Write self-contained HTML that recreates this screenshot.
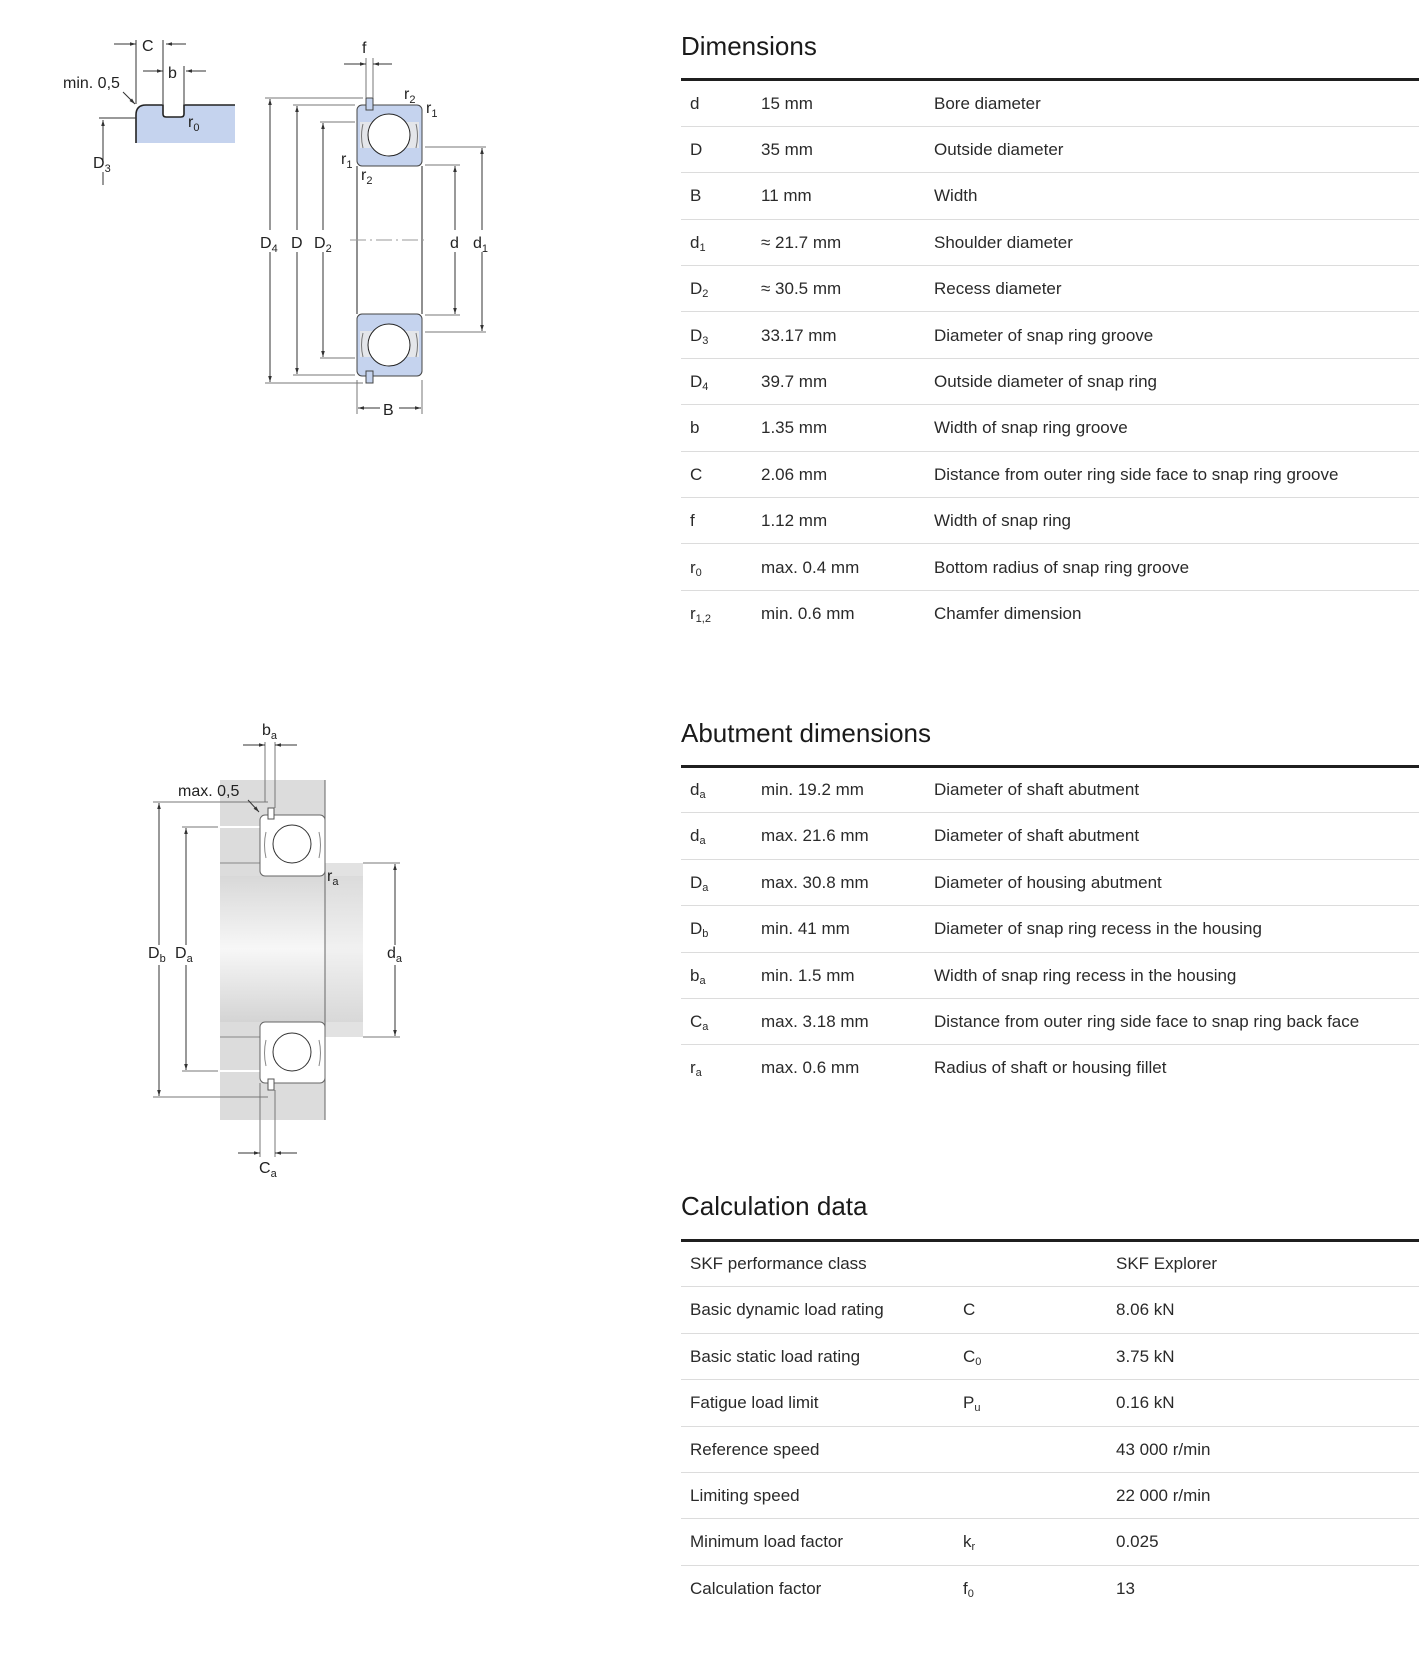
<!DOCTYPE html>
<html><head><meta charset="utf-8"><style>
*{margin:0;padding:0;box-sizing:border-box}
body{width:1419px;height:1656px;background:#fff;position:relative;overflow:hidden;font-family:"Liberation Sans",sans-serif;color:#222}
svg{position:absolute;left:0;top:0}
.h{position:absolute;left:681px;font-size:26px;color:#1a1a1a;line-height:30px}
.thick{position:absolute;left:681px;width:738px;height:3px;background:#1f1f1f}
.row{position:absolute;left:681px;width:738px;height:46.4px;border-bottom:1px solid #dcdcdc;font-size:17px;color:#2a2a2a}
.row.last{border-bottom:none}
.row span{position:absolute;top:13px;white-space:nowrap}
.a{left:9px}.b{left:80px}.c{left:253px}
.k{left:9px}.m{left:282px}.n{left:435px}
sub{font-size:11px;vertical-align:-3px}
</style></head><body>

<svg width="1419" height="1656" viewBox="0 0 1419 1656" font-family="Liberation Sans, sans-serif" fill="#222">
<defs>
<marker id="ar" viewBox="0 0 10 10" refX="10" refY="5" markerWidth="8" markerHeight="6" orient="auto-start-reverse"><path d="M0,2 L10,5 L0,8z" fill="#333"/></marker>
<linearGradient id="sh" x1="0" y1="0" x2="0" y2="1"><stop offset="0" stop-color="#d8d8d8"/><stop offset="0.5" stop-color="#f7f7f7"/><stop offset="1" stop-color="#d4d4d4"/></linearGradient>
</defs>
<g stroke="#333" stroke-width="1" fill="none">
<path d="M136,143 L136,115 Q136,105 146,105 L163,105 L163,114 Q163,117 166,117 L181,117 Q184,117 184,114 L184,105 L235,105 L235,143 Z" fill="#c5d3ee" stroke="none"/>
<path d="M136,143 L136,115 Q136,105 146,105 L163,105 L163,114 Q163,117 166,117 L181,117 Q184,117 184,114 L184,105 L235,105" stroke="#222" stroke-width="1.6"/>
<line x1="136" y1="40" x2="136" y2="104"/><line x1="163" y1="40" x2="163" y2="104"/><line x1="184" y1="66" x2="184" y2="104"/>
<line x1="114" y1="44" x2="136" y2="44" marker-end="url(#ar)"/><line x1="186" y1="44" x2="166" y2="44" marker-end="url(#ar)"/>
<line x1="143" y1="71" x2="163" y2="71" marker-end="url(#ar)"/><line x1="206" y1="71" x2="186" y2="71" marker-end="url(#ar)"/>
<line x1="123" y1="92" x2="135" y2="104" marker-end="url(#ar)"/>
<line x1="99" y1="118" x2="136" y2="118"/>
<line x1="103" y1="165" x2="103" y2="120" marker-end="url(#ar)"/><line x1="103" y1="172" x2="103" y2="185"/>
<rect x="357" y="105" width="65" height="61" rx="5" fill="#c5d3ee" stroke="#444"/>
<rect x="360" y="122" width="59" height="26" fill="#e4e6ea" stroke="none"/>
<rect x="357" y="314" width="65" height="62" rx="5" fill="#c5d3ee" stroke="#444"/>
<rect x="360" y="331" width="59" height="26" fill="#e4e6ea" stroke="none"/>
<path d="M363,124 q-3,12 0,24 M416,124 q3,12 0,24 M363,333 q-3,12 0,24 M416,333 q3,12 0,24" stroke="#777"/>
<circle cx="389" cy="135" r="21" fill="#fff" stroke="#222"/>
<circle cx="389" cy="345" r="21" fill="#fff" stroke="#222"/>
<line x1="357" y1="166" x2="357" y2="314" stroke="#222"/><line x1="422" y1="166" x2="422" y2="314" stroke="#222"/>
<rect x="366" y="98" width="7" height="12" fill="#c5d3ee" stroke="#444"/>
<rect x="366" y="371" width="7" height="12" fill="#c5d3ee" stroke="#444"/>
<line x1="350" y1="240" x2="428" y2="240" stroke="#999" stroke-dasharray="16,4,2,4"/>
<g stroke="#777">
<line x1="265" y1="98" x2="363" y2="98"/><line x1="265" y1="383" x2="363" y2="383"/>
<line x1="293" y1="105" x2="355" y2="105"/><line x1="293" y1="375" x2="355" y2="375"/>
<line x1="320" y1="122" x2="355" y2="122"/><line x1="320" y1="358" x2="355" y2="358"/>
<line x1="425" y1="165" x2="460" y2="165"/><line x1="425" y1="315" x2="460" y2="315"/>
<line x1="425" y1="147" x2="486" y2="147"/><line x1="425" y1="332" x2="486" y2="332"/>
<line x1="357" y1="380" x2="357" y2="414"/><line x1="422" y1="380" x2="422" y2="414"/>
<line x1="366" y1="58" x2="366" y2="98"/><line x1="373" y1="58" x2="373" y2="98"/>
</g>
<line x1="270" y1="230" x2="270" y2="99" marker-end="url(#ar)"/><line x1="270" y1="252" x2="270" y2="382" marker-end="url(#ar)"/>
<line x1="297" y1="230" x2="297" y2="106" marker-end="url(#ar)"/><line x1="297" y1="252" x2="297" y2="374" marker-end="url(#ar)"/>
<line x1="323" y1="230" x2="323" y2="123" marker-end="url(#ar)"/><line x1="323" y1="252" x2="323" y2="357" marker-end="url(#ar)"/>
<line x1="455" y1="230" x2="455" y2="166" marker-end="url(#ar)"/><line x1="455" y1="252" x2="455" y2="314" marker-end="url(#ar)"/>
<line x1="482" y1="230" x2="482" y2="148" marker-end="url(#ar)"/><line x1="482" y1="252" x2="482" y2="331" marker-end="url(#ar)"/>
<line x1="380" y1="408" x2="358" y2="408" marker-end="url(#ar)"/><line x1="399" y1="408" x2="421" y2="408" marker-end="url(#ar)"/>
<line x1="344" y1="64" x2="366" y2="64" marker-end="url(#ar)"/><line x1="392" y1="64" x2="373" y2="64" marker-end="url(#ar)"/>

<rect x="220" y="780" width="105" height="340" fill="#dcdcdc" stroke="none"/>
<rect x="220" y="863" width="143" height="174" fill="#dcdcdc" stroke="none"/>
<rect x="220" y="876" width="143" height="146" fill="url(#sh)" stroke="none"/>
<rect x="325" y="863" width="38" height="174" fill="#e2e2e2" stroke="none"/>
<rect x="325" y="876" width="38" height="146" fill="url(#sh)" stroke="none" opacity="0.7"/>
<line x1="220" y1="827" x2="260" y2="827" stroke="#fff" stroke-width="2"/><line x1="220" y1="1071" x2="260" y2="1071" stroke="#fff" stroke-width="2"/>
<line x1="220" y1="863" x2="260" y2="863" stroke="#888"/><line x1="220" y1="1037" x2="260" y2="1037" stroke="#888"/>
<line x1="325" y1="780" x2="325" y2="1120" stroke="#666"/>
<rect x="260" y="815" width="65" height="61" rx="5" fill="#fff" stroke="#666"/>
<rect x="260" y="1022" width="65" height="61" rx="5" fill="#fff" stroke="#666"/>
<path d="M266,832 q-3,13 0,26 M319,832 q3,13 0,26 M266,1040 q-3,13 0,26 M319,1040 q3,13 0,26" stroke="#888"/>
<circle cx="292" cy="844" r="19" fill="#fff" stroke="#333"/>
<circle cx="292" cy="1052" r="19" fill="#fff" stroke="#333"/>
<rect x="268" y="808" width="6" height="11" fill="#fff" stroke="#555"/>
<rect x="268" y="1079" width="6" height="11" fill="#fff" stroke="#555"/>
<g stroke="#777">
<line x1="153" y1="802" x2="268" y2="802"/><line x1="153" y1="1097" x2="268" y2="1097"/>
<line x1="182" y1="827" x2="218" y2="827"/><line x1="182" y1="1071" x2="218" y2="1071"/>
<line x1="363" y1="863" x2="400" y2="863"/><line x1="363" y1="1037" x2="400" y2="1037"/>
<line x1="265" y1="742" x2="265" y2="802"/><line x1="275" y1="742" x2="275" y2="808"/>
<line x1="260" y1="1083" x2="260" y2="1157"/><line x1="275" y1="1090" x2="275" y2="1157"/>
</g>
<line x1="159" y1="945" x2="159" y2="803" marker-end="url(#ar)"/><line x1="159" y1="965" x2="159" y2="1096" marker-end="url(#ar)"/>
<line x1="186" y1="945" x2="186" y2="828" marker-end="url(#ar)"/><line x1="186" y1="965" x2="186" y2="1070" marker-end="url(#ar)"/>
<line x1="395" y1="945" x2="395" y2="864" marker-end="url(#ar)"/><line x1="395" y1="965" x2="395" y2="1036" marker-end="url(#ar)"/>
<line x1="243" y1="745" x2="265" y2="745" marker-end="url(#ar)"/><line x1="297" y1="745" x2="275" y2="745" marker-end="url(#ar)"/>
<line x1="238" y1="1153" x2="260" y2="1153" marker-end="url(#ar)"/><line x1="297" y1="1153" x2="275" y2="1153" marker-end="url(#ar)"/>
<line x1="248" y1="800" x2="259" y2="812" marker-end="url(#ar)"/>
</g>
<g font-size="16" fill="#222">
<text x="142" y="51">C</text><text x="168" y="78">b</text>
<text x="63" y="88">min. 0,5</text>
<text x="188" y="127">r<tspan font-size="11" dy="4">0</tspan></text>
<text x="93" y="168">D<tspan font-size="11" dy="4">3</tspan></text>
<text x="362" y="53">f</text>
<text x="404" y="99">r<tspan font-size="11" dy="4">2</tspan></text>
<text x="426" y="113">r<tspan font-size="11" dy="4">1</tspan></text>
<text x="341" y="164">r<tspan font-size="11" dy="4">1</tspan></text>
<text x="361" y="180">r<tspan font-size="11" dy="4">2</tspan></text>
<text x="260" y="248">D<tspan font-size="11" dy="4">4</tspan></text>
<text x="291" y="248">D</text>
<text x="314" y="248">D<tspan font-size="11" dy="4">2</tspan></text>
<text x="450" y="248">d</text>
<text x="473" y="248">d<tspan font-size="11" dy="4">1</tspan></text>
<text x="383" y="415">B</text>
<text x="262" y="735">b<tspan font-size="11" dy="4">a</tspan></text>
<text x="178" y="796">max. 0,5</text>
<text x="327" y="881">r<tspan font-size="11" dy="4">a</tspan></text>
<text x="148" y="958">D<tspan font-size="11" dy="4">b</tspan></text>
<text x="175" y="958">D<tspan font-size="11" dy="4">a</tspan></text>
<text x="387" y="958">d<tspan font-size="11" dy="4">a</tspan></text>
<text x="259" y="1173">C<tspan font-size="11" dy="4">a</tspan></text>
</g>
</svg>

<div class="h" style="top:31px">Dimensions</div>
<div class="thick" style="top:78px"></div>
<div class="row" style="top:80.5px"><span class="a">d</span><span class="b">15 mm</span><span class="c">Bore diameter</span></div>
<div class="row" style="top:126.9px"><span class="a">D</span><span class="b">35 mm</span><span class="c">Outside diameter</span></div>
<div class="row" style="top:173.3px"><span class="a">B</span><span class="b">11 mm</span><span class="c">Width</span></div>
<div class="row" style="top:219.7px"><span class="a">d<sub>1</sub></span><span class="b">≈ 21.7 mm</span><span class="c">Shoulder diameter</span></div>
<div class="row" style="top:266.1px"><span class="a">D<sub>2</sub></span><span class="b">≈ 30.5 mm</span><span class="c">Recess diameter</span></div>
<div class="row" style="top:312.5px"><span class="a">D<sub>3</sub></span><span class="b">33.17 mm</span><span class="c">Diameter of snap ring groove</span></div>
<div class="row" style="top:358.9px"><span class="a">D<sub>4</sub></span><span class="b">39.7 mm</span><span class="c">Outside diameter of snap ring</span></div>
<div class="row" style="top:405.3px"><span class="a">b</span><span class="b">1.35 mm</span><span class="c">Width of snap ring groove</span></div>
<div class="row" style="top:451.7px"><span class="a">C</span><span class="b">2.06 mm</span><span class="c">Distance from outer ring side face to snap ring groove</span></div>
<div class="row" style="top:498.1px"><span class="a">f</span><span class="b">1.12 mm</span><span class="c">Width of snap ring</span></div>
<div class="row" style="top:544.5px"><span class="a">r<sub>0</sub></span><span class="b">max. 0.4 mm</span><span class="c">Bottom radius of snap ring groove</span></div>
<div class="row last" style="top:590.9px"><span class="a">r<sub>1,2</sub></span><span class="b">min. 0.6 mm</span><span class="c">Chamfer dimension</span></div>

<div class="h" style="top:718px">Abutment dimensions</div>
<div class="thick" style="top:765px"></div>
<div class="row" style="top:767px"><span class="a">d<sub>a</sub></span><span class="b">min. 19.2 mm</span><span class="c">Diameter of shaft abutment</span></div>
<div class="row" style="top:813.4px"><span class="a">d<sub>a</sub></span><span class="b">max. 21.6 mm</span><span class="c">Diameter of shaft abutment</span></div>
<div class="row" style="top:859.8px"><span class="a">D<sub>a</sub></span><span class="b">max. 30.8 mm</span><span class="c">Diameter of housing abutment</span></div>
<div class="row" style="top:906.2px"><span class="a">D<sub>b</sub></span><span class="b">min. 41 mm</span><span class="c">Diameter of snap ring recess in the housing</span></div>
<div class="row" style="top:952.6px"><span class="a">b<sub>a</sub></span><span class="b">min. 1.5 mm</span><span class="c">Width of snap ring recess in the housing</span></div>
<div class="row" style="top:999px"><span class="a">C<sub>a</sub></span><span class="b">max. 3.18 mm</span><span class="c">Distance from outer ring side face to snap ring back face</span></div>
<div class="row last" style="top:1045.4px"><span class="a">r<sub>a</sub></span><span class="b">max. 0.6 mm</span><span class="c">Radius of shaft or housing fillet</span></div>

<div class="h" style="top:1191px">Calculation data</div>
<div class="thick" style="top:1239px"></div>
<div class="row" style="top:1241px"><span class="k">SKF performance class</span><span class="n">SKF Explorer</span></div>
<div class="row" style="top:1287.4px"><span class="k">Basic dynamic load rating</span><span class="m">C</span><span class="n">8.06 kN</span></div>
<div class="row" style="top:1333.8px"><span class="k">Basic static load rating</span><span class="m">C<sub>0</sub></span><span class="n">3.75 kN</span></div>
<div class="row" style="top:1380.2px"><span class="k">Fatigue load limit</span><span class="m">P<sub>u</sub></span><span class="n">0.16 kN</span></div>
<div class="row" style="top:1426.6px"><span class="k">Reference speed</span><span class="n">43 000 r/min</span></div>
<div class="row" style="top:1473px"><span class="k">Limiting speed</span><span class="n">22 000 r/min</span></div>
<div class="row" style="top:1519.4px"><span class="k">Minimum load factor</span><span class="m">k<sub>r</sub></span><span class="n">0.025</span></div>
<div class="row last" style="top:1565.8px"><span class="k">Calculation factor</span><span class="m">f<sub>0</sub></span><span class="n">13</span></div>
</body></html>
